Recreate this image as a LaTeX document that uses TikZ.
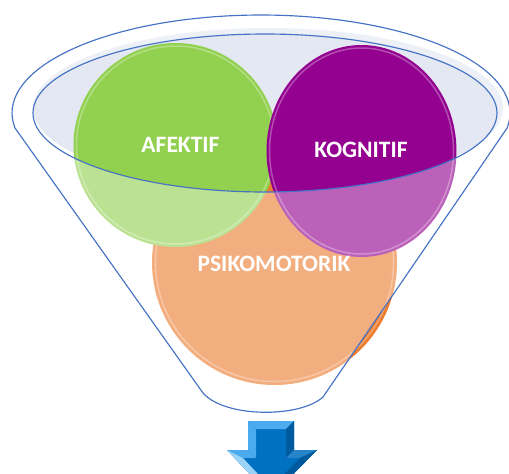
\documentclass[tikz,border=0pt]{standalone}
\usepackage{fontspec}
\setmainfont{Carlito}
\definecolor{rimblue}{HTML}{4472C4}
\definecolor{rimlight}{HTML}{6FA0DC}
\definecolor{glassfill}{HTML}{E3E8F2}
\definecolor{orangebase}{HTML}{ED7D31}
\definecolor{greenbase}{HTML}{92D050}
\definecolor{purplebase}{HTML}{940090}
\definecolor{arrowbase}{HTML}{0070C0}
\definecolor{arrowlight}{HTML}{4CAAEE}
\definecolor{arrowpale}{HTML}{9AD4F8}
\definecolor{arrowdark}{HTML}{005A9E}
\begin{document}
\begin{tikzpicture}[x=1pt,y=-1pt,
  lbl/.style={text=white,font=\fontsize{23.5}{26}\selectfont\bfseries,anchor=base,inner sep=0pt},
  rimline/.style={draw=rimblue,line width=1.15pt},
  gloss/.style={draw=white,line width=1.5pt,opacity=0.3}]
\useasboundingbox (0,0) rectangle (509,474);
% light fill of the funnel mouth
\fill[glassfill] (268,108) ellipse[x radius=235,y radius=80];
% circles
\fill[orangebase] (274.5,262.5) circle[radius=122.5];
\draw[gloss] (274.5,262.5) circle[radius=119];
\fill[greenbase] (175.5,145) circle[radius=102];
\draw[gloss] (175.5,145) circle[radius=99];
\fill[purplebase] (361.5,151) ellipse[x radius=95,y radius=106];
\draw[gloss] (361.5,151) ellipse[x radius=92,y radius=103];
% translucent funnel body
\fill[white,opacity=0.38,even odd rule]
  (15,128) arc[start angle=171.2,end angle=368.8,x radius=249,y radius=98]
  -- (323,397) .. controls (300,418) and (225,418) .. (203,393) -- cycle
  (265,113) ellipse[x radius=232,y radius=79];
% rim of the mouth
\draw[rimline] (265,113) ellipse[x radius=232,y radius=79];
% funnel outline
\draw[rimline,line join=round]
  (15,128) arc[start angle=171.2,end angle=368.8,x radius=249,y radius=98]
  -- (323,397) .. controls (300,418) and (225,418) .. (203,393) -- cycle;
% labels
\node[lbl] (afektif) at (180.5,152) {AFEKTIF};
\node[lbl] (kognitif) at (361,157) {KOGNITIF};
\node[lbl] (psiko) at (274,271) {PSIKOMOTORIK};
% arrow
\fill[arrowbase] (248,421) -- (294,421) -- (294,450) -- (317,450) -- (271,497) -- (227,450) -- (248,450) -- cycle;
\fill[arrowlight] (248,421) -- (294,421) -- (286,429) -- (256,429) -- cycle;
\fill[arrowlight] (248,421) -- (256,429) -- (256,458) -- (248,450) -- cycle;
\fill[arrowdark] (294,421) -- (294,450) -- (286,458) -- (286,429) -- cycle;
\fill[arrowlight] (227,450) -- (248,450) -- (256,458) -- (243,458) -- cycle;
\fill[arrowpale] (227,450) -- (243,458) -- (271,488) -- (271,497) -- cycle;
\fill[arrowbase!85!white] (294,450) -- (317,450) -- (300,458) -- (286,458) -- cycle;
\fill[arrowdark] (317,450) -- (271,497) -- (271,488) -- (300,458) -- cycle;
\end{tikzpicture}
\end{document}
